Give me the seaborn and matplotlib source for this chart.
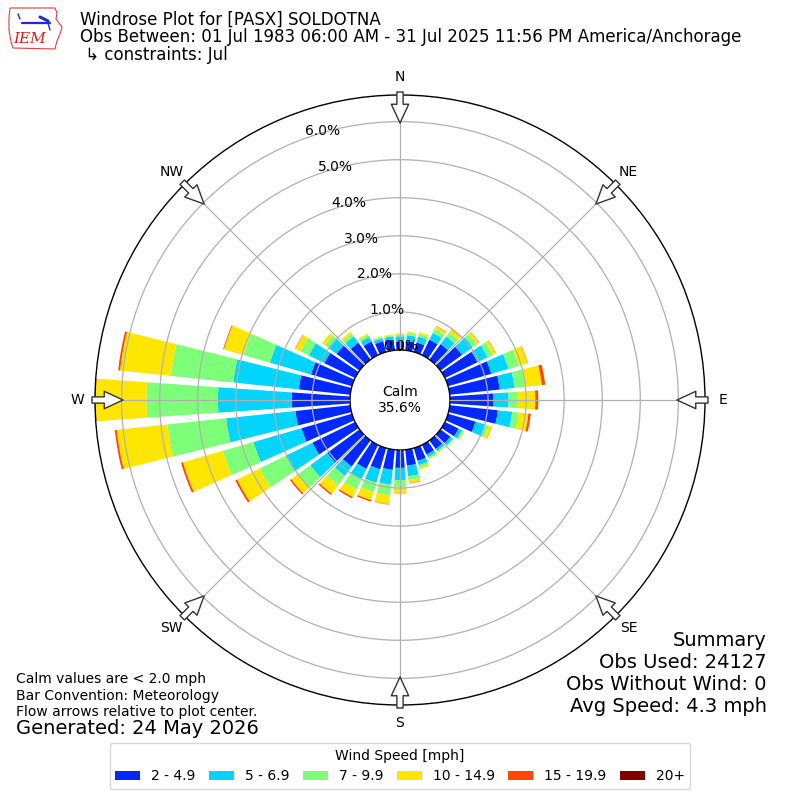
import numpy as np
import matplotlib
matplotlib.use('Agg')
import matplotlib.pyplot as plt
import seaborn as sns
from matplotlib.patches import Polygon
from matplotlib.lines import Line2D

# ---------------- data ----------------
directions = list(range(0, 360, 10))
speed_labels = ['2 - 4.9', '5 - 6.9', '7 - 9.9', '10 - 14.9', '15 - 19.9', '20+']
# percent of observations per direction for each speed bin
pct_2_5 = [0.22, 0.24, 0.26, 0.45, 0.50, 0.70, 0.95, 1.18, 1.32, 1.14, 1.27, 0.75,
           0.40, 0.32, 0.28, 0.28, 0.35, 0.42, 0.47, 0.53, 0.58, 0.70, 0.85, 1.05,
           1.25, 1.38, 1.45, 1.53, 1.36, 1.12, 0.90, 0.75, 0.55, 0.40, 0.30, 0.28]
pct_5_7 = [0.14, 0.16, 0.16, 0.20, 0.25, 0.35, 0.30, 0.47, 0.39, 0.40, 0.38, 0.28,
           0.10, 0.08, 0.07, 0.08, 0.12, 0.28, 0.32, 0.39, 0.37, 0.30, 0.30, 0.55,
           0.78, 1.31, 1.83, 1.94, 1.73, 1.12, 0.45, 0.25, 0.20, 0.13, 0.08, 0.09]
pct_7_10 = [0.05, 0.05, 0.07, 0.11, 0.13, 0.12, 0.15, 0.28, 0.27, 0.23, 0.17, 0.07,
            0.04, 0.03, 0.03, 0.04, 0.06, 0.10, 0.18, 0.28, 0.25, 0.30, 0.30, 0.40,
            0.76, 0.84, 1.55, 1.88, 1.65, 0.73, 0.25, 0.13, 0.09, 0.06, 0.03, 0.03]
pct_10_15 = [0.03, 0.04, 0.05, 0.08, 0.10, 0.08, 0.08, 0.24, 0.45, 0.47, 0.26, 0.08,
             0.02, 0.02, 0.02, 0.02, 0.05, 0.08, 0.16, 0.24, 0.22, 0.22, 0.28, 0.22,
             0.66, 1.09, 1.34, 1.33, 1.34, 0.53, 0.15, 0.09, 0.06, 0.04, 0.02, 0.02]
pct_15_20 = [0.00, 0.00, 0.00, 0.01, 0.01, 0.01, 0.01, 0.01, 0.09, 0.08, 0.06, 0.01,
             0.00, 0.00, 0.00, 0.00, 0.00, 0.01, 0.01, 0.01, 0.04, 0.04, 0.04, 0.04,
             0.05, 0.05, 0.05, 0.02, 0.05, 0.02, 0.01, 0.00, 0.00, 0.00, 0.00, 0.00]
pct_20p = [0.0] * 36
speed_bins = [pct_2_5, pct_5_7, pct_7_10, pct_10_15, pct_15_20, pct_20p]

calm_pct = 35.6
r_ticks = [0, 1, 2, 3, 4, 5, 6]
r_max = 6.7
compass_angles = [0, 45, 90, 135, 180, 225, 270, 315]
compass_labels = ['N', 'NE', 'E', 'SE', 'S', 'SW', 'W', 'NW']

title_lines = ['Windrose Plot for [PASX] SOLDOTNA',
               'Obs Between: 01 Jul 1983 06:00 AM - 31 Jul 2025 11:56 PM America/Anchorage',
               ' \u21b3 constraints: Jul']
notes = ['Calm values are < 2.0 mph', 'Bar Convention: Meteorology',
         'Flow arrows relative to plot center.']
generated = 'Generated: 24 May 2026'
summary_lines = ['Summary', 'Obs Used: 24127', 'Obs Without Wind: 0', 'Avg Speed: 4.3 mph']

# ---------------- style ----------------
sns.set_theme(style='white')
plt.rcParams['font.family'] = ['DejaVu Sans']
plt.rcParams['text.color'] = 'black'
plt.rcParams['xtick.color'] = 'black'
plt.rcParams['ytick.color'] = 'black'
plt.rcParams['axes.labelcolor'] = 'black'

W = H = 800
fig = plt.figure(figsize=(8, 8), dpi=100)
fig.patch.set_facecolor('white')

def fx(px):
    return px / W

def fy(py):
    return 1 - py / H

ax = fig.add_axes([fx(95), 95 / H, 610 / W, 610 / H], projection='polar')
ax.set_theta_zero_location('N')
ax.set_theta_direction(-1)
ax.set_ylim(0, r_max)
ax.set_rorigin(-r_max * 50.0 / 255.0)

colors = plt.get_cmap('jet')(np.arange(1, 7) / 6.0)
theta = np.deg2rad(directions)
width = np.deg2rad(8)
bottom = np.zeros(len(directions))
handles = []
for vals, lab, col in zip(speed_bins, speed_labels, colors):
    v = np.array(vals, dtype=float)
    bc = ax.bar(theta, v, width=width, bottom=bottom, color=col,
                edgecolor='none', linewidth=0, label=lab, zorder=1)
    handles.append(bc)
    bottom += v

ax.set_yticks(r_ticks[1:])
ax.set_yticklabels([])
for t in r_ticks:
    ax.text(np.deg2rad(340), t, f'{t:.1f}%', ha='left', va='bottom',
            fontsize=10, zorder=6, color='black')

ax.set_xticks(np.deg2rad(compass_angles))
ax.set_xticklabels(compass_labels, fontsize=10, color='black')
ax.tick_params(axis='x', pad=0)
ax.grid(True, color='#b0b0b0', linewidth=0.9)
ax.set_axisbelow(False)
ax.spines['polar'].set_color('black')
ax.spines['polar'].set_linewidth(1.0)
if 'inner' in ax.spines:
    ax.spines['inner'].set_color('black')
    ax.spines['inner'].set_linewidth(1.0)

# flow arrows at the rim
def px_to_r(px):
    return (px - 50.0) * r_max / 255.0

for a in compass_angles:
    ax.annotate('', xy=(np.deg2rad(a), px_to_r(277)),
                xytext=(np.deg2rad(a), px_to_r(308)),
                arrowprops=dict(arrowstyle='simple,head_length=1.35,head_width=1.25,tail_width=0.45',
                                fc='white', ec='#333333', lw=1.0,
                                shrinkA=0, shrinkB=0, mutation_scale=10),
                annotation_clip=False, zorder=7)

ax.text(0.5, 0.5, f'Calm\n{calm_pct:.1f}%', transform=ax.transAxes,
        ha='center', va='center', fontsize=10, zorder=8, color='black')

# ---------------- header ----------------
for line, py in zip(title_lines, [20, 37, 55]):
    fig.text(fx(80), fy(py), line, fontsize=12, va='center', ha='left', color='black')

# simple IEM logo
iowa = [(10, 8), (55, 8), (57, 13), (56, 19), (62, 27), (60, 34), (57, 41),
        (55, 49), (13, 48), (11, 42), (9, 30), (9, 18)]
fig.add_artist(Polygon([(fx(x), fy(y)) for x, y in iowa], closed=True,
                       fill=False, ec='#d84040', lw=0.8, transform=fig.transFigure))
fig.add_artist(Line2D([fx(22), fx(50)], [fy(23), fy(23)], color='#1a2bd0', lw=1.6,
                      transform=fig.transFigure))
fig.add_artist(Line2D([fx(40), fx(48)], [fy(17), fy(21)], color='#1a2bd0', lw=2.2,
                      transform=fig.transFigure))
fig.add_artist(Line2D([fx(18), fx(20)], [fy(14), fy(19)], color='#1a2bd0', lw=1.0,
                      transform=fig.transFigure))
fig.add_artist(Line2D([fx(48), fx(50)], [fy(23), fy(30)], color='#1a2bd0', lw=1.0,
                      transform=fig.transFigure))
fig.text(fx(30), fy(39), 'IEM', color='#d42020', fontsize=11, fontstyle='italic',
         family=['DejaVu Serif'], ha='center', va='center')

# ---------------- footer ----------------
for line, py in zip(notes, [679, 696, 712]):
    fig.text(fx(16), fy(py), line, fontsize=10, va='center', ha='left', color='black')
fig.text(fx(16), fy(729), generated, fontsize=14, va='center', ha='left', color='black')
for line, py in zip(summary_lines, [640, 662, 684, 706]):
    fig.text(fx(767), fy(py), line, fontsize=14, va='center', ha='right', color='black')

leg = fig.legend(handles=handles, labels=speed_labels, loc='lower center',
                 bbox_to_anchor=(0.5, 0.005), ncol=6, title='Wind Speed [mph]',
                 fontsize=10, title_fontsize=10, frameon=True,
                 handlelength=1.8, handleheight=0.6, columnspacing=0.95,
                 handletextpad=0.8)
leg.get_frame().set_edgecolor('#cccccc')
for txt in leg.get_texts():
    txt.set_color('black')
leg.get_title().set_color('black')

fig.savefig('out.png', dpi=100)
